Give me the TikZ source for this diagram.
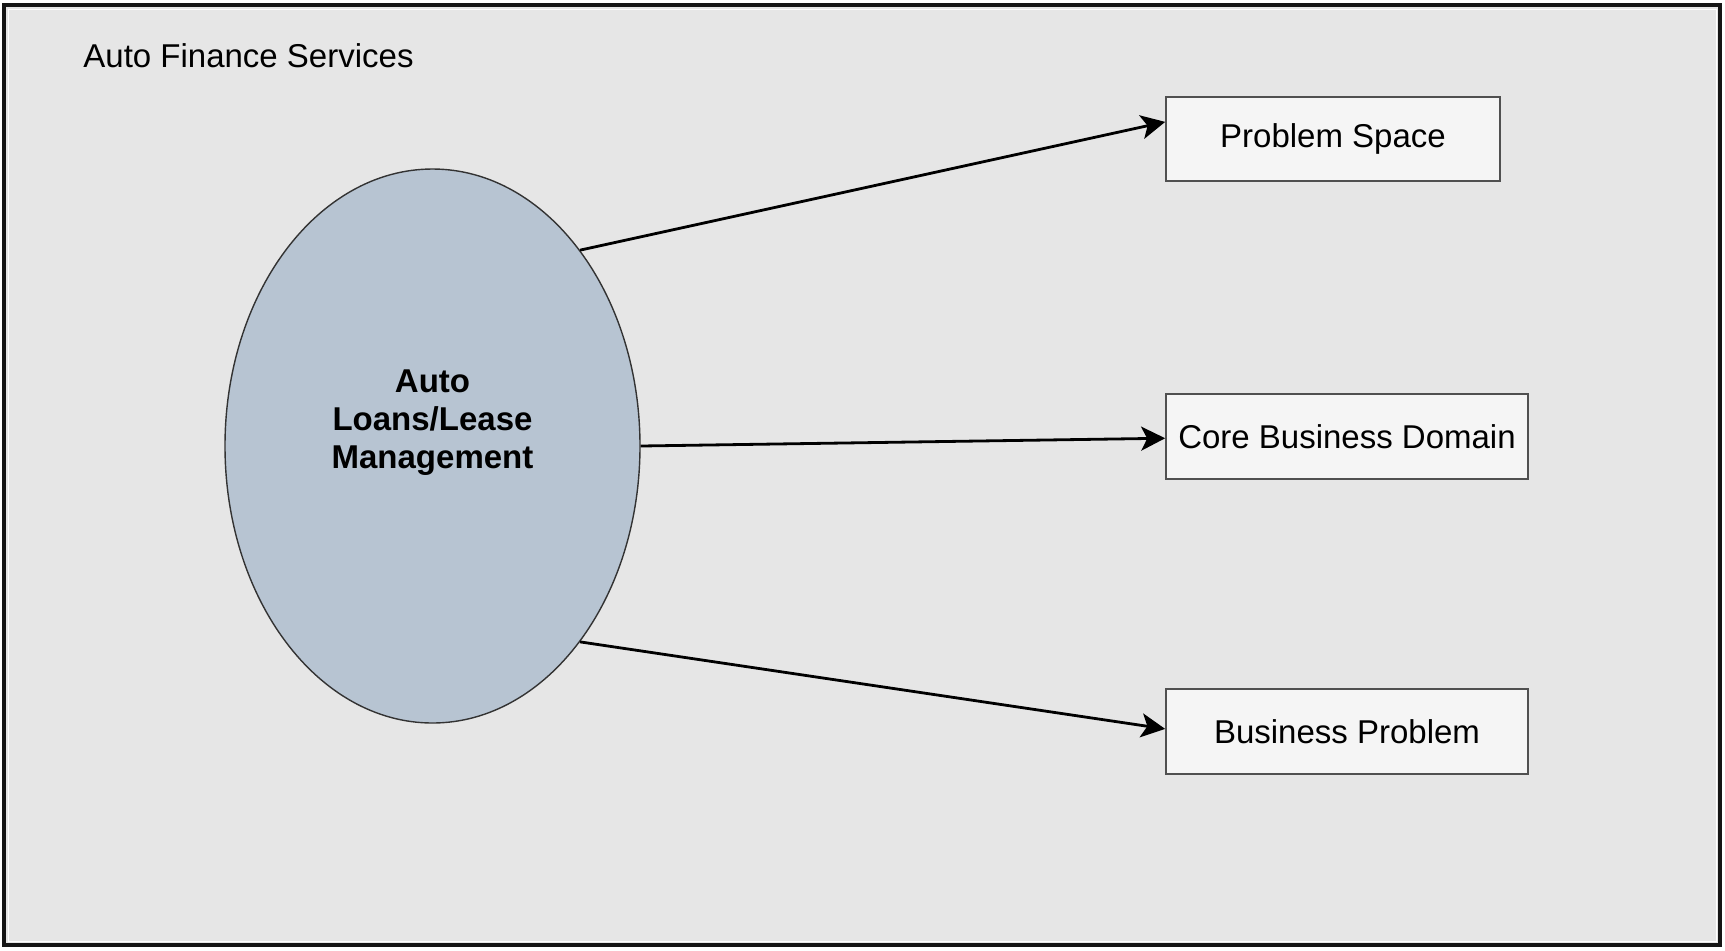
\documentclass[tikz,border=0pt]{standalone}
\usepackage{fontspec}
\setmainfont{Liberation Sans}
\usetikzlibrary{shapes.geometric,arrows.meta,calc}
\definecolor{bgfill}{HTML}{E6E6E6}
\definecolor{ellfill}{HTML}{B7C4D2}
\definecolor{boxfill}{HTML}{F5F5F5}
\definecolor{boxline}{HTML}{505050}
\definecolor{frameline}{HTML}{151515}
\tikzset{
  lbl/.style={font=\fontsize{16.5}{18.75}\selectfont, inner sep=0pt},
  conceptbox/.style={draw=boxline, line width=0.8pt, fill=boxfill, rectangle, minimum height=42.5pt, inner sep=0pt, font=\fontsize{16.5}{18.75}\selectfont},
  conn/.style={draw=black, line width=1.4pt, -{Stealth[length=12pt,width=12pt,inset=3pt]}}
}
\begin{document}
\begin{tikzpicture}[x=0.5pt,y=-0.5pt]
\useasboundingbox (0,0) rectangle (1725,950);
\fill[white] (0,0) rectangle (1725,950);
\draw[frameline, line width=1.7pt, fill=bgfill] (4,5) rectangle (1720,945);
\draw[white, line width=0.5pt] (8,9) rectangle (1716,941);
\node[lbl, anchor=base west] (title) at (83,67) {Auto Finance Services};
\node[ellipse, draw=black!80, line width=0.7pt, fill=ellfill, minimum width=207.5pt, minimum height=277pt, inner sep=0pt] (ell) at (432.5,446) {};
\node[lbl, align=center, font=\fontsize{16.5}{19}\selectfont\bfseries] (ellt) at (432.5,423) {Auto\\Loans/Lease\\Management};
\node[conceptbox, minimum width=167pt, minimum height=42pt] (b1) at (1333,139) {Problem Space};
\node[conceptbox, minimum width=181pt] (b2) at (1347,436.5) {Core Business Domain};
\node[conceptbox, minimum width=181pt] (b3) at (1347,731.5) {Business Problem};
\draw[conn] (ell.53.1) -- ($(b1.north west)!0.3!(b1.south west)$);
\draw[conn] (ell.east) -- ($(b2.north west)!0.52!(b2.south west)$);
\draw[conn] (ell.-53.1) -- ($(b3.north west)!0.47!(b3.south west)$);
\end{tikzpicture}
\end{document}
